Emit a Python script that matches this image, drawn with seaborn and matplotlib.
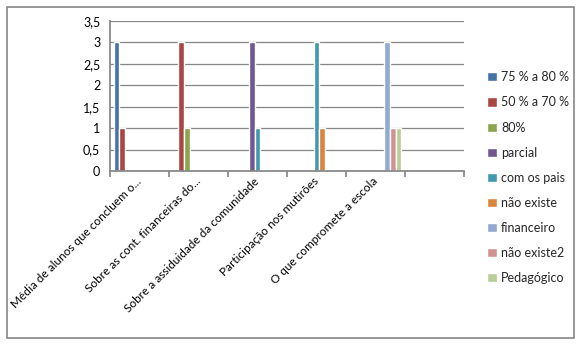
import numpy as np
import pandas as pd
import matplotlib
matplotlib.use("Agg")
import matplotlib.pyplot as plt
import seaborn as sns
from matplotlib.patches import Rectangle
from matplotlib.ticker import FuncFormatter, MultipleLocator
import matplotlib.transforms as mtransforms

categories = ["Média de alunos que concluem o...",
              "Sobre as cont. financeiras do...",
              "Sobre a assiduidade da comunidade",
              "Participação nos mutirões",
              "O que compromete a escola",
              " "]
series = ["75 % a 80 %", "50 % a 70 %", "80%", "parcial", "com os pais",
          "não existe", "financeiro", "não existe2", "Pedagógico"]
s_75_80 = [3, None, None, None, None, None]
s_50_70 = [1, 3, None, None, None, None]
s_80 = [None, 1, None, None, None, None]
s_parcial = [None, None, 3, None, None, None]
s_pais = [None, None, 1, 3, None, None]
s_nao = [None, None, None, 1, None, None]
s_fin = [None, None, None, None, 3, None]
s_nao2 = [None, None, None, None, 1, None]
s_ped = [None, None, None, None, 1, None]
values = [s_75_80, s_50_70, s_80, s_parcial, s_pais, s_nao, s_fin, s_nao2, s_ped]
colors = ["#4572A7", "#AA4643", "#89A54E", "#71588F", "#4198AF",
          "#DB843D", "#93A9CF", "#D19392", "#B9CD96"]

rows = []
for s, vals in zip(series, values):
    for c, v in zip(categories, vals):
        rows.append({"cat": c, "series": s, "value": np.nan if v is None else v})
df = pd.DataFrame(rows)

sns.set_theme(style="white")
plt.rcParams['font.family'] = ['Lato', 'DejaVu Sans']

fig = plt.figure(figsize=(5.84, 3.45), dpi=100)
ax = fig.add_axes([110/584, 1-171/345, (464-110)/584, (171-21)/345])

sns.barplot(data=df, x="cat", y="value", hue="series", order=categories,
            hue_order=series, palette=colors, width=0.88, gap=0,
            saturation=1, ax=ax, legend=True, err_kws={'linewidth': 0})

ax.set_xlim(-0.5, len(categories) - 0.5)
ax.set_ylim(0, 3.5)
ax.yaxis.set_major_locator(MultipleLocator(0.5))
ax.yaxis.set_major_formatter(FuncFormatter(lambda v, p: ("%g" % v).replace(".", ",")))
ax.grid(axis="y", color="#868686", linewidth=0.9)
ax.set_axisbelow(True)
for side in ["top", "right"]:
    ax.spines[side].set_visible(False)
ax.spines["left"].set_color("#868686")
ax.spines["bottom"].set_color("#868686")
ax.set_xlabel("")
ax.set_ylabel("")

ax.set_xticks(np.arange(-0.5, len(categories) + 0.5, 1), minor=False)
ax.set_xticklabels([])
ax.set_xticks(np.arange(len(categories)), minor=True)
ax.set_xticklabels(categories, minor=True, rotation=45, ha="right", va="center",
                   rotation_mode="anchor", fontsize=8.5, color="black")
offset = mtransforms.ScaledTranslation(6/100, 0, fig.dpi_scale_trans)
for lbl in ax.get_xticklabels(minor=True):
    lbl.set_transform(lbl.get_transform() + offset)
ax.tick_params(axis="x", which="minor", length=0, pad=6)
ax.tick_params(axis="x", which="major", length=4, color="#868686", direction="out")
ax.tick_params(axis="y", length=4, color="#868686", direction="out", labelsize=9,
               labelcolor="black", pad=3)
ax.tick_params(axis="x", which="both", bottom=True)

handles, labels = ax.get_legend_handles_labels()
ax.get_legend().remove()
fig.legend(handles, labels, loc="upper left", bbox_to_anchor=(481/584, 1-65/345),
           frameon=False, fontsize=9, handlelength=0.75, handleheight=0.75,
           handletextpad=0.35, labelspacing=1.05, borderpad=0)

fig.patches.append(Rectangle((7/584, 1-338/345), (574-7)/584, (338-7)/345,
                             transform=fig.transFigure, fill=False,
                             edgecolor="#868686", linewidth=1.2))

fig.savefig("out.png", dpi=100)
